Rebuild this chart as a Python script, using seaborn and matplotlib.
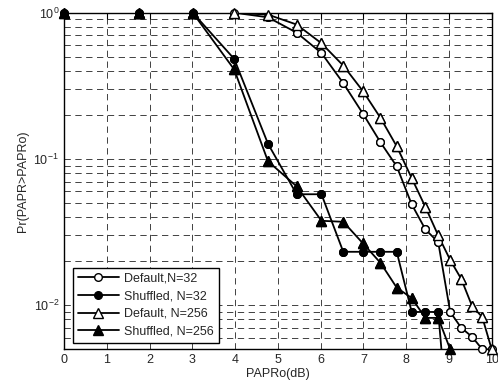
import numpy as np
import pandas as pd
import matplotlib
matplotlib.use("Agg")
import matplotlib.pyplot as plt
import seaborn as sns
from matplotlib.ticker import LogLocator, FixedLocator, NullFormatter

papr_db = [0, 1.76, 3.01, 3.98, 4.77, 5.44, 6.02, 6.53, 6.99, 7.40,
           7.78, 8.13, 8.45, 8.75, 9.03, 9.29, 9.54, 9.78, 10.0]

default_32 = [1, 1, 1, 1.0, 0.93, 0.73, 0.53, 0.33, 0.204, 0.13,
              0.089, 0.049, 0.033, 0.027, 0.009, 0.007, 0.0061, 0.005, 0.005]
shuffled_32 = [1, 1, 1, 0.483, 0.127, 0.0574, 0.0574, 0.0232, 0.0232, 0.0232,
               0.0232, 0.009, 0.009, 0.009, 0.001, np.nan, np.nan, np.nan, np.nan]
default_256 = [1, 1, 1, 1.0, 0.97, 0.83, 0.618, 0.435, 0.291, 0.191,
               0.122, 0.074, 0.047, 0.030, 0.0204, 0.0151, 0.0099, 0.0083, 0.005]
shuffled_256 = [1, 1, 1, 0.409, 0.0964, 0.065, 0.0378, 0.0372, 0.0265, 0.0195,
                0.0132, 0.0112, 0.0082, 0.0082, 0.005, np.nan, np.nan, np.nan, np.nan]

labels = ["Default,N=32", "Shuffled, N=32", "Default, N=256", "Shuffled, N=256"]
x_ticks = list(range(0, 11))
y_min, y_max = 0.005, 1

sns.set_style("white")
plt.rcParams["font.family"] = ["Liberation Sans", "DejaVu Sans"]
plt.rcParams["mathtext.fontset"] = "custom"
plt.rcParams["mathtext.rm"] = "Liberation Sans"

fig = plt.figure(figsize=(4.98, 3.87), dpi=100)
ax = fig.add_axes([0.1285, 0.0974, 0.8588, 0.8698])

series = [default_32, shuffled_32, default_256, shuffled_256]
styles = [dict(marker="o", markerfacecolor="white", markersize=5.5),
          dict(marker="o", markerfacecolor="black", markersize=5.5),
          dict(marker="^", markerfacecolor="white", markersize=7),
          dict(marker="^", markerfacecolor="black", markersize=7)]
mk = dict(markeredgecolor="black", markeredgewidth=1.0)

for vals, lab, st in zip(series, labels, styles):
    df = pd.DataFrame({"x": papr_db, "y": vals}).dropna()
    sns.lineplot(data=df, x="x", y="y", ax=ax, color="black", linewidth=1.3,
                 estimator=None, sort=False, label=lab, zorder=3, **mk, **st)
    inside = df[(df["y"] >= y_min * 0.999) & (df["y"] <= y_max)]
    sns.lineplot(data=inside, x="x", y="y", ax=ax, color="black", linestyle="",
                 estimator=None, sort=False, clip_on=False, legend=False,
                 zorder=4, **mk, **st)

ax.set_yscale("log")
ax.set_xlim(0, 10)
ax.set_ylim(y_min, y_max)
ax.xaxis.set_major_locator(FixedLocator(x_ticks))
ax.yaxis.set_major_locator(LogLocator(base=10, numticks=10))
ax.yaxis.set_minor_locator(LogLocator(base=10, subs=np.arange(2, 10), numticks=20))
ax.yaxis.set_minor_formatter(NullFormatter())

gkw = dict(color="#333333", linestyle=(0, (7, 5)), linewidth=0.65)
ax.grid(True, which="major", axis="x", **gkw)
ax.grid(True, which="both", axis="y", **gkw)

ax.tick_params(which="both", direction="in", top=True, right=True,
               labelsize=9, color="black")
ax.tick_params(which="major", length=4)
ax.tick_params(which="minor", length=2)
for s in ax.spines.values():
    s.set_color("black")
    s.set_linewidth(1.0)

ax.set_xlabel("PAPRo(dB)", fontsize=9, labelpad=1)
ax.set_ylabel("Pr(PAPR>PAPRo)", fontsize=9, labelpad=3)

handles, labs = ax.get_legend_handles_labels()
leg = ax.legend(handles[:4], labs[:4], loc="lower left", bbox_to_anchor=(0.02, 0.02),
                fontsize=9, frameon=True, fancybox=False, edgecolor="black",
                framealpha=1, handlelength=3.3, borderpad=0.4, labelspacing=0.45,
                handletextpad=0.4, borderaxespad=0)
leg.get_frame().set_linewidth(1.0)
leg.set_zorder(10)

fig.savefig("out.png", dpi=100)
